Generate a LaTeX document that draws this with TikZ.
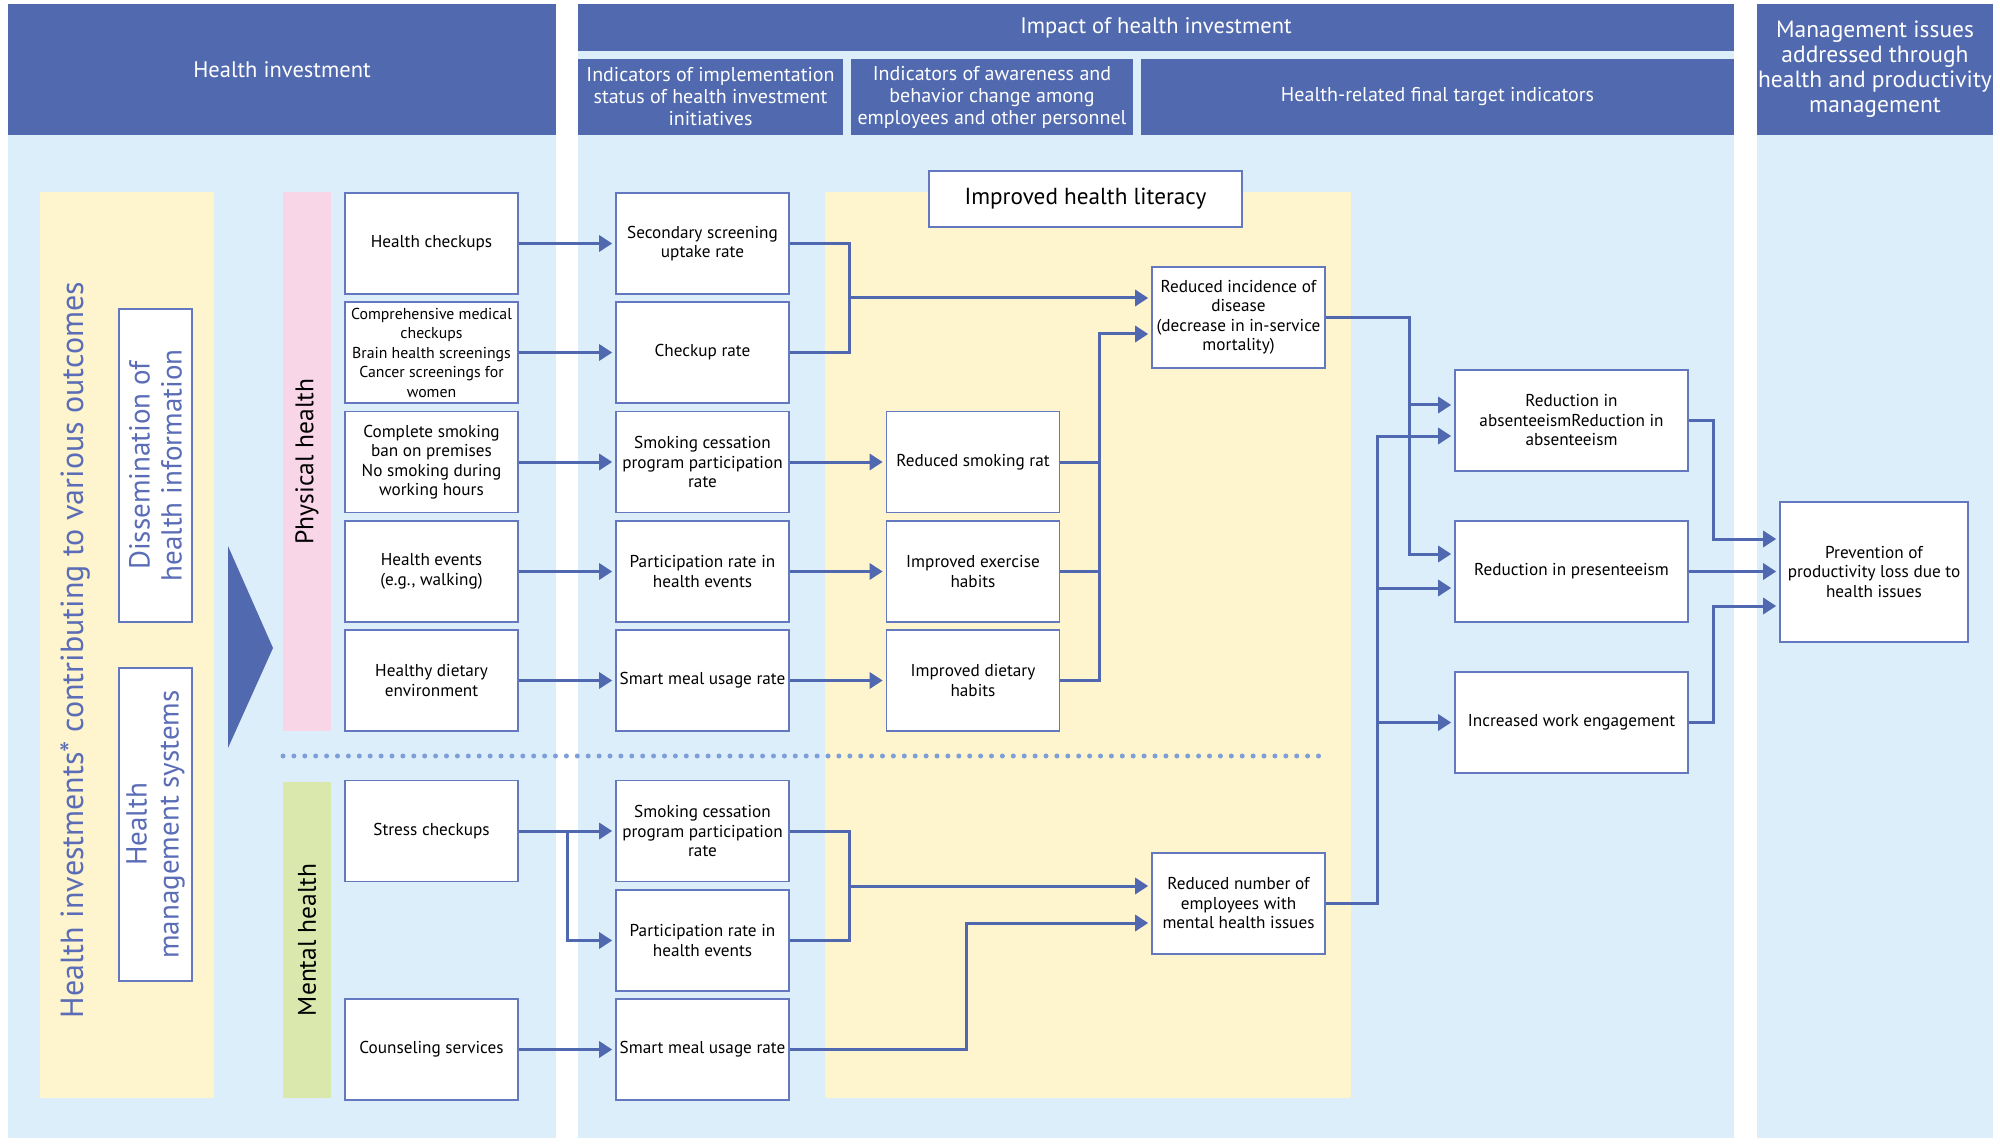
\documentclass[tikz,border=0pt]{standalone}
\usepackage{fontspec}
\setmainfont{PT Sans}
\usetikzlibrary{arrows.meta}
\definecolor{hdr}{HTML}{5169AE}
\definecolor{pbg}{HTML}{DDEEFB}
\definecolor{ylw}{HTML}{FEF4CD}
\definecolor{pnk}{HTML}{F9D6E7}
\definecolor{grn}{HTML}{DAE8AE}
\definecolor{lnc}{HTML}{5068B0}
\definecolor{bdr}{HTML}{6378BF}
\definecolor{dotc}{HTML}{7D9ED7}
\definecolor{vtxt}{HTML}{5A6DB6}
\begin{document}
\begin{tikzpicture}[x=1pt,y=-1pt,
  box/.style={draw=bdr, line width=1.6pt, fill=white, align=center, inner sep=1pt,
    font=\fontsize{17.2}{19.5}\selectfont, minimum width=173pt, minimum height=101pt},
  wbox/.style={box, minimum width=233pt},
  hdrbox/.style={fill=hdr, text=white, align=center, inner sep=0pt},
  vbox/.style={draw=bdr, line width=1.6pt, fill=white, rotate=90, align=center, inner sep=0pt,
    text=vtxt, font=\fontsize{29}{32}\selectfont, minimum width=313pt, minimum height=73pt},
  band/.style={rotate=90, inner sep=0pt, minimum height=48pt, font=\fontsize{25.5}{28}\selectfont},
  ln/.style={draw=lnc, line width=3pt},
  arr/.style={draw=lnc, line width=3pt, -{Triangle[length=13pt,width=16pt]}, shorten >=3pt},
  dotline/.style={draw=dotc, line width=5pt, line cap=round, dash pattern=on 0pt off 10.9pt}
]
\useasboundingbox (0,0) rectangle (2000,1147);
\fill[white] (0,0) rectangle (2000,1147);
% panels
\fill[pbg] (8,4) rectangle (556,1138);
\fill[pbg] (578,4) rectangle (1734,1138);
\fill[pbg] (1757,4) rectangle (1993,1138);
% headers
\node[hdrbox, minimum width=548pt, minimum height=131pt, font=\fontsize{22.5}{26}\selectfont] (h1) at (282,69.5) {Health investment};
\node[hdrbox, minimum width=1156pt, minimum height=47pt, font=\fontsize{22.5}{26}\selectfont] (h2) at (1156,27.5) {Impact of health investment};
\node[hdrbox, minimum width=265pt, minimum height=76pt, font=\fontsize{20}{22}\selectfont] (h21) at (710.5,97) {Indicators of implementation\\status of health investment\\initiatives};
\node[hdrbox, minimum width=282pt, minimum height=76pt, font=\fontsize{20}{22}\selectfont] (h22) at (992,97) {Indicators of awareness and\\behavior change among\\employees and other personnel};
\node[hdrbox, minimum width=593pt, minimum height=76pt, font=\fontsize{20}{22}\selectfont] (h23) at (1437.5,97) {Health-related final target indicators};
\node[hdrbox, minimum width=236pt, minimum height=131pt, font=\fontsize{23.5}{25}\selectfont] (h3) at (1875,69.5) {Management issues\\addressed through\\health and productivity\\management};
% left decorations
\fill[ylw] (40,192) rectangle (214,1098);
\node[rotate=90, inner sep=0pt, text=vtxt, font=\fontsize{32}{36}\selectfont] (v0) at (75,650) {Health investments* contributing to various outcomes};
\node[vbox] (v1) at (155.5,465.5) {Dissemination of\\health information};
\node[vbox] (v2) at (155.5,824.5) {Health\\management systems};
\fill[hdr] (228,546) -- (273,648) -- (228,748) -- cycle;
\node[band, fill=pnk, minimum width=539pt] (ph) at (307,461.5) {Physical health};
\node[band, fill=grn, minimum width=316pt] (mh) at (307,940) {Mental health};
\fill[ylw] (825,192) rectangle (1351,1098);
\draw[dotline] (283,756) -- (1322,756);
% column A
\node[box] (a1) at (431.5,243.5) {Health checkups};
\node[box, font=\fontsize{15.8}{19.5}\selectfont] (a2) at (431.5,352.5) {Comprehensive medical\\checkups\\Brain health screenings\\Cancer screenings for\\women};
\node[box] (a3) at (431.5,462) {Complete smoking\\ban on premises\\No smoking during\\working hours};
\node[box] (a4) at (431.5,571.5) {Health events\\(e.g., walking)};
\node[box] (a5) at (431.5,680.5) {Healthy dietary\\environment};
\node[box] (a6) at (431.5,831) {Stress checkups};
\node[box] (a7) at (431.5,1049.5) {Counseling services};
% column B
\node[box] (b1) at (702.5,243.5) {Secondary screening\\uptake rate};
\node[box] (b2) at (702.5,352.5) {Checkup rate};
\node[box] (b3) at (702.5,462) {Smoking cessation\\program participation\\rate};
\node[box] (b4) at (702.5,571.5) {Participation rate in\\health events};
\node[box] (b5) at (702.5,680.5) {Smart meal usage rate};
\node[box] (b6) at (702.5,831) {Smoking cessation\\program participation\\rate};
\node[box] (b7) at (702.5,940.5) {Participation rate in\\health events};
\node[box] (b8) at (702.5,1049.5) {Smart meal usage rate};
% column C
\node[box] (c1) at (973,462) {Reduced smoking rat};
\node[box] (c2) at (973,571.5) {Improved exercise\\habits};
\node[box] (c3) at (973,680.5) {Improved dietary\\habits};
\node[box, minimum width=313pt, minimum height=56pt, font=\fontsize{23.2}{26}\selectfont] (lit) at (1085.5,199) {Improved health literacy};
% column D
\node[box] (d1) at (1238.5,317.5) {Reduced incidence of\\disease\\(decrease in in-service\\mortality)};
\node[box] (d2) at (1238.5,903.5) {Reduced number of\\employees with\\mental health issues};
% column E
\node[wbox] (e1) at (1571.5,420.5) {Reduction in\\absenteeismReduction in\\absenteeism};
\node[wbox] (e2) at (1571.5,571.5) {Reduction in presenteeism};
\node[wbox] (e3) at (1571.5,722.5) {Increased work engagement};
\node[box, minimum width=188pt, minimum height=140pt] (f) at (1874,572) {Prevention of\\productivity loss due to\\health issues};
% junctions
\coordinate (j1) at (849,298);
\coordinate (j2) at (1099,334);
\coordinate (j3a) at (1409,405);
\coordinate (j3b) at (1409,554);
\coordinate (j4) at (1377,436);
\coordinate (j4b) at (1377,588);
\coordinate (j4c) at (1377,722.5);
\coordinate (j5) at (1713,539);
\coordinate (j6) at (1713,606);
\coordinate (j7) at (567,831);
\coordinate (j8) at (849,886);
\coordinate (j9) at (966,923);
% connectors A->B
\draw[arr] (a1.east) -- (b1.west);
\draw[arr] (a2.east) -- (b2.west);
\draw[arr] (a3.east) -- (b3.west);
\draw[arr] (a4.east) -- (b4.west);
\draw[arr] (a5.east) -- (b5.west);
\draw[arr] (a6.east) -- (b6.west);
\draw[arr] (j7) |- (b7.west);
\draw[arr] (a7.east) -- (b8.west);
% B->C
\draw[arr] (b3.east) -- (c1.west);
\draw[arr] (b4.east) -- (c2.west);
\draw[arr] (b5.east) -- (c3.west);
% B->D
\draw[ln] (b1.east) -| (j1) |- (b2.east);
\draw[arr] (j1) -- (d1.west |- j1);
\draw[ln] (b6.east) -| (j8) |- (b7.east);
\draw[arr] (j8) -- (d2.west |- j8);
\draw[arr] (b8.east) -| (j9) -- (d2.west |- j9);
% C->D
\draw[ln] (c1.east) -- (c1.east -| j2);
\draw[ln] (c2.east) -- (c2.east -| j2);
\draw[arr] (c3.east) -| (j2) -- (d1.west |- j2);
% D->E
\draw[arr] (d1.east) -| (j3b) -- (e2.west |- j3b);
\draw[arr] (j3a) -- (e1.west |- j3a);
\draw[arr] (d2.east) -| (j4) -- (e1.west |- j4);
\draw[arr] (j4b) -- (e2.west |- j4b);
\draw[arr] (j4c) -- (e3.west);
% E->F
\draw[arr] (e1.east) -| (j5) -- (f.west |- j5);
\draw[arr] (e2.east) -- (f.west |- e2.east);
\draw[arr] (e3.east) -| (j6) -- (f.west |- j6);
\end{tikzpicture}
\end{document}
